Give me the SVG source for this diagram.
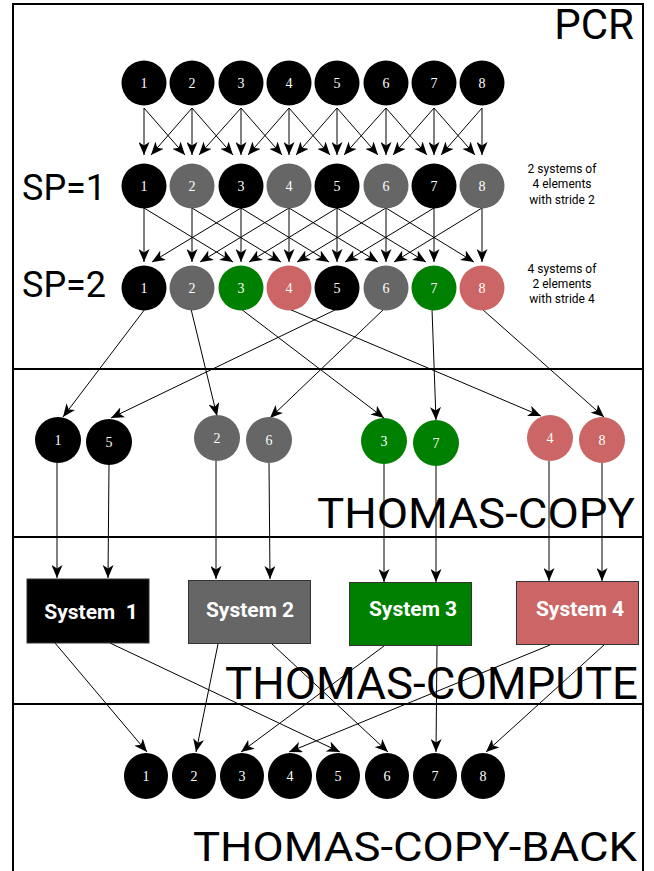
<svg xmlns="http://www.w3.org/2000/svg" width="654" height="871" viewBox="0 0 654 871">
  <defs>
    <marker id="arr" markerUnits="userSpaceOnUse" markerWidth="13" markerHeight="11" refX="13" refY="5.5" orient="auto">
      <path d="M0,0 L13,5.5 L0,11 L3.5,5.5 z" fill="#000"/>
    </marker>
    <style>
      .num { font-family: "Liberation Serif", "Times New Roman", serif; font-size: 14px; fill: #fff; text-anchor: middle; }
      .big { font-family: Roboto, "Liberation Sans", sans-serif; fill: #000; }
      .note { font-family: Roboto, "Liberation Sans", sans-serif; font-size: 12px; fill: #000; text-anchor: middle; }
      .sys { font-family: Roboto, "Liberation Sans", sans-serif; font-size: 21px; font-weight: bold; fill: #fff; text-anchor: middle; }
      .blk { fill: #000; }
      .gry { fill: #666666; }
      .grn { fill: #008000; }
      .red { fill: #CC6666; }
      .edge { stroke: #000; stroke-width: 1; fill: none; marker-end: url(#arr); }
      .frame { stroke: #000; stroke-width: 2; fill: none; }
    </style>
  </defs>

  <rect width="654" height="871" fill="#fff"/>

  <!-- stage frames -->
  <g id="frames">
    <path class="frame" d="M13,871 V4 H643 V871"/>
    <line class="frame" x1="13" y1="369" x2="643" y2="369"/>
    <line class="frame" x1="13" y1="537" x2="643" y2="537"/>
    <line class="frame" x1="13" y1="704" x2="643" y2="704"/>
  </g>

  <!-- stage titles -->
  <g id="titles">
    <text class="big" x="634" y="39" font-size="42" text-anchor="end">PCR</text>
    <text class="big" x="22" y="200" font-size="36">SP=1</text>
    <text class="big" x="22" y="297" font-size="36">SP=2</text>
    <text class="big" x="635" y="528" font-size="42" text-anchor="end" textLength="318" lengthAdjust="spacingAndGlyphs">THOMAS-COPY</text>
    <text class="big" x="638" y="699" font-size="44" text-anchor="end" textLength="413" lengthAdjust="spacingAndGlyphs">THOMAS-COMPUTE</text>
    <text class="big" x="637" y="861" font-size="41" text-anchor="end" textLength="444" lengthAdjust="spacingAndGlyphs">THOMAS-COPY-BACK</text>
    <text class="note" x="562" y="173">2 systems of</text>
    <text class="note" x="562" y="188">4 elements</text>
    <text class="note" x="562" y="204">with stride 2</text>
    <text class="note" x="562" y="273">4 systems of</text>
    <text class="note" x="562" y="288">2 elements</text>
    <text class="note" x="562" y="303">with stride 4</text>
  </g>

  <!-- connectors -->
  <g id="connectors">
    <!-- level 0 to SP=1 (stride 1) -->
    <line class="edge" x1="144" y1="108" x2="144" y2="155"/>
    <line class="edge" x1="144" y1="108" x2="185" y2="155"/>
    <line class="edge" x1="192" y1="108" x2="151" y2="155"/>
    <line class="edge" x1="192" y1="108" x2="192" y2="155"/>
    <line class="edge" x1="192" y1="108" x2="233" y2="155"/>
    <line class="edge" x1="241" y1="108" x2="199" y2="155"/>
    <line class="edge" x1="241" y1="108" x2="241" y2="155"/>
    <line class="edge" x1="241" y1="108" x2="282" y2="155"/>
    <line class="edge" x1="289" y1="108" x2="248" y2="155"/>
    <line class="edge" x1="289" y1="108" x2="289" y2="155"/>
    <line class="edge" x1="289" y1="108" x2="330" y2="155"/>
    <line class="edge" x1="337" y1="108" x2="296" y2="155"/>
    <line class="edge" x1="337" y1="108" x2="337" y2="155"/>
    <line class="edge" x1="337" y1="108" x2="378" y2="155"/>
    <line class="edge" x1="386" y1="108" x2="344" y2="155"/>
    <line class="edge" x1="386" y1="108" x2="386" y2="155"/>
    <line class="edge" x1="386" y1="108" x2="427" y2="155"/>
    <line class="edge" x1="434" y1="108" x2="393" y2="155"/>
    <line class="edge" x1="434" y1="108" x2="434" y2="155"/>
    <line class="edge" x1="434" y1="108" x2="475" y2="155"/>
    <line class="edge" x1="482" y1="108" x2="441" y2="155"/>
    <line class="edge" x1="482" y1="108" x2="482" y2="155"/>

    <!-- SP=1 to SP=2 (stride 2) -->
    <line class="edge" x1="144" y1="208" x2="144" y2="262"/>
    <line class="edge" x1="144" y1="208" x2="233" y2="262"/>
    <line class="edge" x1="192" y1="208" x2="192" y2="262"/>
    <line class="edge" x1="192" y1="208" x2="281" y2="262"/>
    <line class="edge" x1="241" y1="208" x2="152" y2="262"/>
    <line class="edge" x1="241" y1="208" x2="241" y2="262"/>
    <line class="edge" x1="241" y1="208" x2="329" y2="262"/>
    <line class="edge" x1="289" y1="208" x2="200" y2="262"/>
    <line class="edge" x1="289" y1="208" x2="289" y2="262"/>
    <line class="edge" x1="289" y1="208" x2="378" y2="262"/>
    <line class="edge" x1="337" y1="208" x2="249" y2="262"/>
    <line class="edge" x1="337" y1="208" x2="337" y2="262"/>
    <line class="edge" x1="337" y1="208" x2="426" y2="262"/>
    <line class="edge" x1="386" y1="208" x2="297" y2="262"/>
    <line class="edge" x1="386" y1="208" x2="386" y2="262"/>
    <line class="edge" x1="386" y1="208" x2="474" y2="262"/>
    <line class="edge" x1="434" y1="208" x2="345" y2="262"/>
    <line class="edge" x1="434" y1="208" x2="434" y2="262"/>
    <line class="edge" x1="482" y1="208" x2="394" y2="262"/>
    <line class="edge" x1="482" y1="208" x2="482" y2="262"/>

    <!-- SP=2 to per-system copies -->
    <line class="edge" x1="145" y1="309" x2="63" y2="417"/>
    <line class="edge" x1="337" y1="309" x2="111" y2="418"/>
    <line class="edge" x1="191" y1="309" x2="217" y2="416"/>
    <line class="edge" x1="384" y1="309" x2="270" y2="418"/>
    <line class="edge" x1="241" y1="309" x2="384" y2="418"/>
    <line class="edge" x1="432" y1="309" x2="436" y2="420"/>
    <line class="edge" x1="289" y1="309" x2="541" y2="416"/>
    <line class="edge" x1="482" y1="309" x2="604" y2="417"/>

    <!-- copies into systems -->
    <line class="edge" x1="57" y1="463" x2="57" y2="578"/>
    <line class="edge" x1="109" y1="465" x2="108" y2="578"/>
    <line class="edge" x1="216" y1="461" x2="216" y2="579"/>
    <line class="edge" x1="269" y1="463" x2="270" y2="579"/>
    <line class="edge" x1="384" y1="464" x2="384" y2="582"/>
    <line class="edge" x1="436" y1="466" x2="436" y2="582"/>
    <line class="edge" x1="549" y1="461" x2="549" y2="581"/>
    <line class="edge" x1="602" y1="463" x2="602" y2="581"/>

    <!-- systems back to solution vector -->
    <line class="edge" x1="55" y1="643" x2="147" y2="752"/>
    <line class="edge" x1="110" y1="643" x2="340" y2="752"/>
    <line class="edge" x1="218" y1="644" x2="196" y2="752"/>
    <line class="edge" x1="272" y1="644" x2="388" y2="752"/>
    <line class="edge" x1="384" y1="646" x2="241" y2="752"/>
    <line class="edge" x1="437" y1="646" x2="436" y2="752"/>
    <line class="edge" x1="550" y1="645" x2="289" y2="752"/>
    <line class="edge" x1="604" y1="645" x2="486" y2="752"/>
  </g>

  <!-- level 0 -->
  <g id="pcr0-1"><circle class="blk" cx="144" cy="83" r="22.5"/><text class="num" x="144" y="88">1</text></g>
  <g id="pcr0-2"><circle class="blk" cx="192" cy="83" r="22.5"/><text class="num" x="192" y="88">2</text></g>
  <g id="pcr0-3"><circle class="blk" cx="241" cy="83" r="22.5"/><text class="num" x="241" y="88">3</text></g>
  <g id="pcr0-4"><circle class="blk" cx="289" cy="83" r="22.5"/><text class="num" x="289" y="88">4</text></g>
  <g id="pcr0-5"><circle class="blk" cx="337" cy="83" r="22.5"/><text class="num" x="337" y="88">5</text></g>
  <g id="pcr0-6"><circle class="blk" cx="386" cy="83" r="22.5"/><text class="num" x="386" y="88">6</text></g>
  <g id="pcr0-7"><circle class="blk" cx="434" cy="83" r="22.5"/><text class="num" x="434" y="88">7</text></g>
  <g id="pcr0-8"><circle class="blk" cx="482" cy="83" r="22.5"/><text class="num" x="482" y="88">8</text></g>

  <!-- SP=1 -->
  <g id="sp1-1"><circle class="blk" cx="144" cy="186" r="22.5"/><text class="num" x="144" y="191">1</text></g>
  <g id="sp1-2"><circle class="gry" cx="192" cy="186" r="22.5"/><text class="num" x="192" y="191">2</text></g>
  <g id="sp1-3"><circle class="blk" cx="241" cy="186" r="22.5"/><text class="num" x="241" y="191">3</text></g>
  <g id="sp1-4"><circle class="gry" cx="289" cy="186" r="22.5"/><text class="num" x="289" y="191">4</text></g>
  <g id="sp1-5"><circle class="blk" cx="337" cy="186" r="22.5"/><text class="num" x="337" y="191">5</text></g>
  <g id="sp1-6"><circle class="gry" cx="386" cy="186" r="22.5"/><text class="num" x="386" y="191">6</text></g>
  <g id="sp1-7"><circle class="blk" cx="434" cy="186" r="22.5"/><text class="num" x="434" y="191">7</text></g>
  <g id="sp1-8"><circle class="gry" cx="482" cy="186" r="22.5"/><text class="num" x="482" y="191">8</text></g>

  <!-- SP=2 -->
  <g id="sp2-1"><circle class="blk" cx="144" cy="288" r="22.5"/><text class="num" x="144" y="293">1</text></g>
  <g id="sp2-2"><circle class="gry" cx="192" cy="288" r="22.5"/><text class="num" x="192" y="293">2</text></g>
  <g id="sp2-3"><circle class="grn" cx="241" cy="288" r="22.5"/><text class="num" x="241" y="293">3</text></g>
  <g id="sp2-4"><circle class="red" cx="289" cy="288" r="22.5"/><text class="num" x="289" y="293">4</text></g>
  <g id="sp2-5"><circle class="blk" cx="337" cy="288" r="22.5"/><text class="num" x="337" y="293">5</text></g>
  <g id="sp2-6"><circle class="gry" cx="386" cy="288" r="22.5"/><text class="num" x="386" y="293">6</text></g>
  <g id="sp2-7"><circle class="grn" cx="434" cy="288" r="22.5"/><text class="num" x="434" y="293">7</text></g>
  <g id="sp2-8"><circle class="red" cx="482" cy="288" r="22.5"/><text class="num" x="482" y="293">8</text></g>

  <!-- per-system copies -->
  <g id="cp-1"><ellipse class="blk" cx="58" cy="440" rx="23" ry="23"/><text class="num" x="58" y="445">1</text></g>
  <g id="cp-5"><ellipse class="blk" cx="109" cy="442" rx="23" ry="23"/><text class="num" x="109" y="447">5</text></g>
  <g id="cp-2"><ellipse class="gry" cx="217" cy="438" rx="23" ry="23"/><text class="num" x="217" y="443">2</text></g>
  <g id="cp-6"><ellipse class="gry" cx="269" cy="440" rx="23" ry="23"/><text class="num" x="269" y="445">6</text></g>
  <g id="cp-3"><ellipse class="grn" cx="384" cy="441" rx="23" ry="23"/><text class="num" x="384" y="446">3</text></g>
  <g id="cp-7"><ellipse class="grn" cx="436" cy="443" rx="23" ry="23"/><text class="num" x="436" y="448">7</text></g>
  <g id="cp-4"><ellipse class="red" cx="550" cy="438" rx="23" ry="23"/><text class="num" x="550" y="443">4</text></g>
  <g id="cp-8"><ellipse class="red" cx="602" cy="440" rx="23" ry="23"/><text class="num" x="602" y="445">8</text></g>

  <!-- tridiagonal solvers -->
  <g id="system-1"><rect class="blk" x="27" y="579" width="122" height="64" stroke="#333"/><text class="sys" x="91" y="619" xml:space="preserve">System  1</text></g>
  <g id="system-2"><rect class="gry" x="188.5" y="580.5" width="122" height="63" stroke="#333"/><text class="sys" x="250" y="617">System 2</text></g>
  <g id="system-3"><rect class="grn" x="349.5" y="582.5" width="122" height="63" stroke="#333"/><text class="sys" x="413" y="616">System 3</text></g>
  <g id="system-4"><rect class="red" x="516.5" y="581.5" width="122" height="63" stroke="#333"/><text class="sys" x="580" y="616">System 4</text></g>

  <!-- solution vector -->
  <g id="x-1"><ellipse class="blk" cx="146" cy="776" rx="22" ry="23"/><text class="num" x="146" y="781">1</text></g>
  <g id="x-2"><ellipse class="blk" cx="194" cy="776" rx="22" ry="23"/><text class="num" x="194" y="781">2</text></g>
  <g id="x-3"><ellipse class="blk" cx="242" cy="776" rx="22" ry="23"/><text class="num" x="242" y="781">3</text></g>
  <g id="x-4"><ellipse class="blk" cx="290" cy="776" rx="22" ry="23"/><text class="num" x="290" y="781">4</text></g>
  <g id="x-5"><ellipse class="blk" cx="338" cy="776" rx="22" ry="23"/><text class="num" x="338" y="781">5</text></g>
  <g id="x-6"><ellipse class="blk" cx="387" cy="776" rx="22" ry="23"/><text class="num" x="387" y="781">6</text></g>
  <g id="x-7"><ellipse class="blk" cx="435" cy="776" rx="22" ry="23"/><text class="num" x="435" y="781">7</text></g>
  <g id="x-8"><ellipse class="blk" cx="483" cy="776" rx="22" ry="23"/><text class="num" x="483" y="781">8</text></g>
</svg>
